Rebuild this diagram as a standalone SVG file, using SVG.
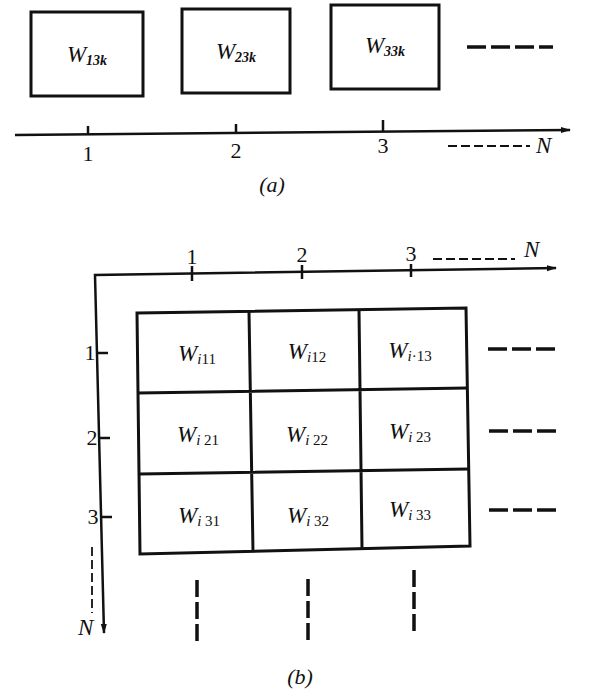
<svg xmlns="http://www.w3.org/2000/svg" width="589" height="693" viewBox="0 0 589 693">
<style>
.box{fill:none;stroke:#111;stroke-width:3}
.ln{stroke:#111;stroke-width:2.5;fill:none}
.dash{stroke:#111;stroke-width:3.5;fill:none;stroke-dasharray:19 5}
.dv{stroke:#111;stroke-width:3.5;fill:none;stroke-dasharray:17 5}
.dsh{stroke:#111;stroke-width:1.8;fill:none;stroke-dasharray:9 4}
.w{font-family:"Liberation Serif",serif;font-style:italic;font-size:23px;fill:#111;text-anchor:middle}
.s{font-size:14px;font-style:italic;font-weight:bold}
.u{font-size:15px;font-style:normal}
.n{font-family:"Liberation Serif",serif;font-size:22px;fill:#111;text-anchor:middle}
.ni{font-family:"Liberation Serif",serif;font-style:italic;font-size:23px;fill:#111}
</style>
<defs>
<marker id="ah" markerWidth="10" markerHeight="8" refX="9" refY="4" orient="auto-start-reverse" markerUnits="userSpaceOnUse">
<path d="M0,1 L10,4 L0,7 Z" fill="#111"/>
</marker>
</defs>
<!-- part (a) -->
<g id="a-n1"><rect class="box" x="31" y="12" width="112" height="84"/><text class="w" x="87" y="62">W<tspan class="s" dy="3">13k</tspan></text></g>
<g id="a-n2"><rect class="box" x="182" y="9" width="108" height="84"/><text class="w" x="236" y="59">W<tspan class="s" dy="3">23k</tspan></text></g>
<g id="a-n3"><rect class="box" x="331" y="5" width="108" height="84"/><text class="w" x="385" y="53">W<tspan class="s" dy="3" font-weight="normal">33k</tspan></text></g>
<g id="a-axis">
<line class="dash" x1="467" y1="47" x2="553" y2="47" stroke-dasharray="24 7"/>
<line class="ln" x1="15" y1="135" x2="570" y2="130" marker-end="url(#ah)"/>
<line class="ln" x1="88" y1="126" x2="88" y2="134"/>
<line class="ln" x1="236" y1="124" x2="236" y2="133"/>
<line class="ln" x1="383" y1="120" x2="383" y2="131"/>
<text class="n" x="88" y="161">1</text>
<text class="n" x="236" y="158">2</text>
<text class="n" x="383" y="153">3</text>
<line class="dsh" x1="448" y1="146" x2="530" y2="146"/>
<text class="ni" x="536" y="153">N</text>
<text class="n" x="272" y="192" font-style="italic" font-size="24">(a)</text>
</g>
<!-- part (b) -->
<g id="connectors">
<path class="ln" d="M556,268 L95,275 L104,633" marker-start="url(#ah)" marker-end="url(#ah)"/>
<line class="ln" x1="192" y1="266" x2="192" y2="281"/>
<line class="ln" x1="302" y1="265" x2="302" y2="279"/>
<line class="ln" x1="411" y1="264" x2="411" y2="277"/>
<text class="n" x="192" y="264">1</text>
<text class="n" x="302" y="262">2</text>
<text class="n" x="411" y="261">3</text>
<line class="dsh" x1="433" y1="259" x2="515" y2="259"/>
<text class="ni" x="524" y="257">N</text>
<line class="ln" x1="98" y1="353" x2="108" y2="353"/>
<line class="ln" x1="100" y1="438" x2="110" y2="438"/>
<line class="ln" x1="102" y1="517" x2="112" y2="517"/>
<text class="n" x="90" y="360">1</text>
<text class="n" x="92" y="445">2</text>
<text class="n" x="93" y="524">3</text>
<line class="dsh" x1="92" y1="547" x2="92" y2="613"/>
<text class="ni" x="78" y="635">N</text>
<line class="dash" x1="488" y1="349" x2="555" y2="349"/>
<line class="dash" x1="489" y1="431" x2="556" y2="431"/>
<line class="dash" x1="489" y1="510" x2="556" y2="510"/>
<line class="dv" x1="197" y1="580" x2="197" y2="641"/>
<line class="dv" x1="308" y1="579" x2="308" y2="640"/>
<line class="dv" x1="414" y1="570" x2="414" y2="631"/>
<text class="n" x="300" y="684" font-style="italic" font-size="24">(b)</text>
</g>
<g id="grid">
<path class="box" d="M137,313 L466,308 L470,546 L140,554 Z"/>
<path class="box" d="M138,393 L468,388 M139,474 L469,469 M249,312 L253,552 M359,310 L362,548"/>
</g>
<g id="b-11"><text class="w" x="197" y="361">W<tspan class="u" dy="3"><tspan font-style="italic">i</tspan>11</tspan></text></g>
<g id="b-12"><text class="w" x="307" y="359">W<tspan class="u" dy="3"><tspan font-style="italic">i</tspan>12</tspan></text></g>
<g id="b-13"><text class="w" x="410" y="358">W<tspan class="u" dy="3"><tspan font-style="italic">i</tspan>·13</tspan></text></g>
<g id="b-21"><text class="w" x="198" y="442">W<tspan class="u" dy="3"><tspan font-style="italic">i</tspan> 21</tspan></text></g>
<g id="b-22"><text class="w" x="307" y="442">W<tspan class="u" dy="3"><tspan font-style="italic">i</tspan> 22</tspan></text></g>
<g id="b-23"><text class="w" x="410" y="439">W<tspan class="u" dy="3"><tspan font-style="italic">i</tspan> 23</tspan></text></g>
<g id="b-31"><text class="w" x="199" y="523">W<tspan class="u" dy="3"><tspan font-style="italic">i</tspan> 31</tspan></text></g>
<g id="b-32"><text class="w" x="308" y="523">W<tspan class="u" dy="3"><tspan font-style="italic">i</tspan> 32</tspan></text></g>
<g id="b-33"><text class="w" x="410" y="517">W<tspan class="u" dy="3"><tspan font-style="italic">i</tspan> 33</tspan></text></g>
</svg>
